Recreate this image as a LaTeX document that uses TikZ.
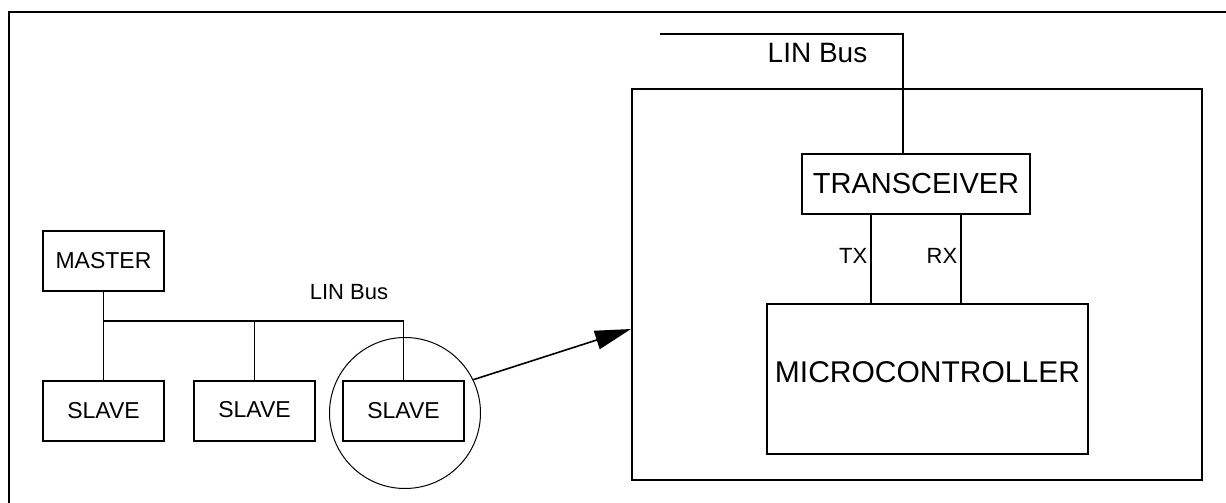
\documentclass[tikz,border=0pt]{standalone}
\usepackage{fontspec}
\setmainfont{Liberation Sans}
\usetikzlibrary{arrows.meta,calc}
\tikzset{
  unit/.style={draw, line width=1.6pt, inner sep=0pt, font=\fontsize{23}{27}\selectfont},
  wire/.style={line width=1.6pt},
  tag/.style={inner sep=0pt},
  sig/.style={font=\fontsize{22}{26}\selectfont},
}
\begin{document}
\begin{tikzpicture}[x=1pt,y=-1pt]
\useasboundingbox (0,0) rectangle (1226,503);
\draw[line width=2.4pt] (9,503) -- (9,12) -- (1226,12);
\node[unit, minimum width=121pt, minimum height=60pt] (master) at (103.5,261) {MASTER};
\node[unit, minimum width=121pt, minimum height=60pt] (slaveA) at (103.5,411) {SLAVE};
\node[unit, minimum width=121pt, minimum height=60pt] (slaveB) at (254.5,411) {\raisebox{4pt}{SLAVE}};
\node[unit, minimum width=121pt, minimum height=60pt] (slaveC) at (403.5,411) {SLAVE};
\node[draw, circle, line width=1pt, minimum size=151pt, inner sep=0pt] (zoom) at (405,413) {};
\coordinate (tapA) at (103.5,321);
\coordinate (tapC) at (403.5,321);
\draw[wire] (master) -- (slaveA);
\draw[wire] (tapA) -- (tapC) -- (slaveC);
\draw[wire] (slaveB) -- (slaveB |- tapA);
\node[tag, font=\fontsize{22}{26}\selectfont] (busname) at (349,292) {LIN Bus};
\node[unit, minimum width=570pt, minimum height=391pt] (board) at (917,284.5) {};
\node[unit, minimum width=228pt, minimum height=60pt, font=\fontsize{29}{34}\selectfont] (trx) at (916,184) {TRANSCEIVER};
\node[unit, minimum width=321pt, minimum height=150pt, font=\fontsize{30}{35}\selectfont] (mcu) at (927.5,379) {\raisebox{13pt}{MICROCONTROLLER}};
\coordinate (busEnd) at (660,34);
\coordinate (busBend) at (903,34);
\draw[wire] (busEnd) -- (busBend) -- (busBend |- trx.north);
\node[tag, font=\fontsize{28}{33}\selectfont] (topname) at (817.5,53.5) {LIN Bus};
\draw[wire] (trx.south -| 871,0) -- node[pos=0.47, left, inner sep=3pt, sig] {TX} (mcu.north -| 871,0);
\draw[wire] (trx.south -| 961,0) -- node[pos=0.47, left, inner sep=3pt, sig] {RX} (mcu.north -| 961,0);
\coordinate (hit) at (631,329);
\draw[wire, -{Triangle[length=36pt,width=19pt]}] (zoom.26) -- (hit);
\end{tikzpicture}
\end{document}
